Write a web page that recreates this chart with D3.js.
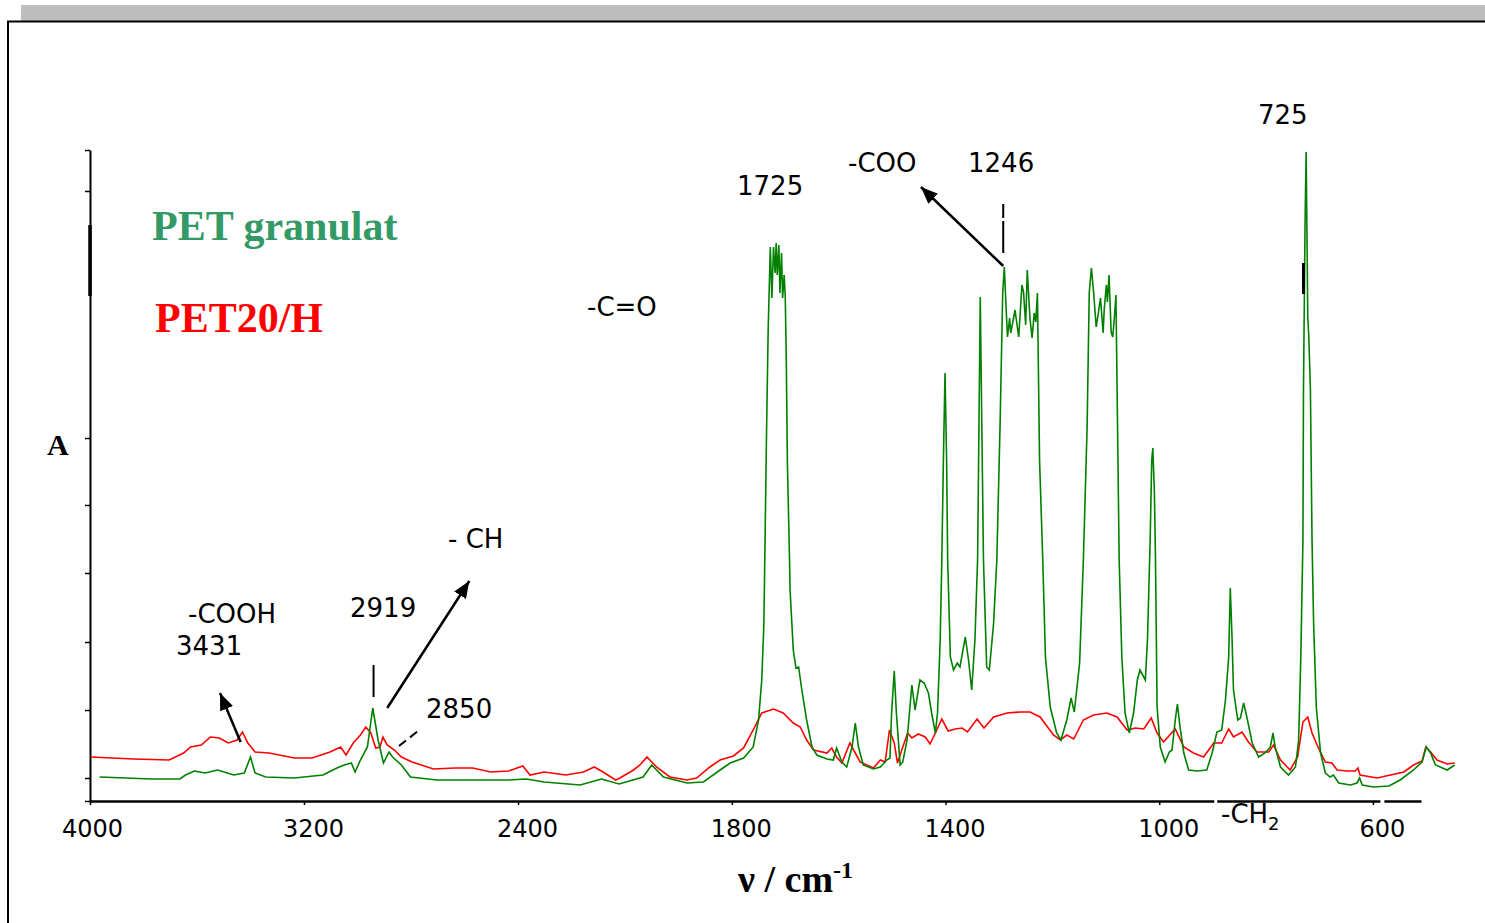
<!DOCTYPE html>
<html>
<head>
<meta charset="utf-8">
<script src="https://cdn.jsdelivr.net/npm/d3@7"></script>
<style>
body { margin: 0; background: #fff; }
svg { display: block; }
.ann { font-family: "DejaVu Sans", Verdana, sans-serif; font-size: 26px; fill: #000; }
.tick text { font-family: "DejaVu Sans", Verdana, sans-serif; font-size: 24px; fill: #000; }
.serif { font-family: "Liberation Serif", "Times New Roman", serif; font-weight: bold; }
</style>
</head>
<body>
<div id="chart"></div>
<script>
// x axis ticks (wavenumber, cm-1) and the unlabeled y ticks (absorbance, arb. units)
const xTicks = [4000, 3200, 2400, 1800, 1400, 1000, 600];
const yTicks = [0, 2.3, 9.1, 15.9, 22.8, 29.6, 36.3, 61.0, 65.1];

// PET granulat
const greenWn = [3964, 3770, 3664, 3643, 3610, 3570, 3523, 3463, 3423, 3400, 3383, 3343, 3236, 3129, 3077, 3050, 3023, 3009, 2989, 2963,
    2943, 2923, 2903, 2882, 2869, 2836, 2802, 2703, 2568, 2435, 2369, 2302, 2168, 2088, 2022, 1966, 1950, 1928, 1884, 1853,
    1822, 1803, 1778, 1760, 1750, 1744, 1740, 1735, 1732, 1728, 1725, 1722, 1719, 1717, 1715, 1712, 1710, 1707, 1705, 1702,
    1700, 1698, 1696, 1692, 1691, 1685, 1680, 1675, 1669, 1660, 1650, 1641, 1622, 1610, 1604, 1594, 1585, 1575, 1569, 1563,
    1554, 1535, 1522, 1510, 1504, 1501, 1496, 1492, 1485, 1480, 1472, 1463, 1457, 1448, 1440, 1432, 1426, 1419, 1415, 1410,
    1407, 1404, 1401, 1398, 1396, 1391, 1385, 1378, 1373, 1363, 1357, 1351, 1345, 1340, 1335, 1329, 1323, 1318, 1310, 1304,
    1298, 1293, 1290, 1286, 1284, 1280, 1278, 1274, 1270, 1263, 1257, 1254, 1250, 1247, 1242, 1238, 1234, 1231, 1228, 1224,
    1218, 1213, 1204, 1192, 1184, 1173, 1165, 1159, 1149, 1142, 1135, 1131, 1127, 1123, 1118, 1114, 1110, 1105, 1103, 1099,
    1097, 1094, 1090, 1087, 1084, 1081, 1078, 1075, 1070, 1064, 1056, 1048, 1041, 1036, 1026, 1022, 1017, 1014, 1012, 1009,
    1007, 1004, 998, 989, 981, 976, 970, 966, 961, 954, 945, 929, 911, 901, 892, 883, 876, 870, 867, 864,
    861, 853, 848, 842, 836, 826, 814, 802, 792, 787, 783, 773, 758, 745, 739, 735, 731, 730, 727, 725,
    723, 722, 720, 717, 714, 711, 706, 698, 689, 680, 674, 664, 642, 630, 625, 620, 599, 570, 549, 524,
    508, 500, 492, 483, 461, 447];
const greenAbs = [2.4, 2.2, 2.2, 2.6, 3.0, 2.8, 3.1, 2.6, 2.8, 4.4, 2.8, 2.4, 2.3, 2.6, 3.3, 3.6, 3.8, 2.9, 4.1, 5.4,
    9.3, 6.1, 3.8, 4.9, 4.4, 3.6, 2.4, 2.1, 2.1, 2.1, 2.2, 1.9, 1.6, 2.2, 1.7, 2.4, 3.6, 2.4, 1.8, 1.9,
    3.1, 3.8, 4.3, 5.4, 8.1, 12.1, 17.8, 37.1, 47.1, 55.4, 50.3, 55.4, 52.8, 55.8, 52.6, 55.6, 50.8, 54.8, 50.3, 52.6,
    50.4, 43.8, 33.8, 24.1, 21.1, 15.1, 13.3, 13.4, 11.1, 8.1, 5.4, 4.6, 4.2, 4.1, 5.3, 3.9, 3.4, 5.4, 7.8, 5.4,
    3.6, 3.2, 3.4, 4.1, 4.3, 8.8, 13.0, 8.8, 3.6, 3.9, 6.1, 11.6, 9.1, 12.1, 11.8, 10.8, 8.8, 6.8, 8.8, 16.1,
    24.1, 34.1, 42.8, 34.1, 24.1, 14.4, 13.1, 13.8, 13.4, 16.4, 14.1, 11.1, 16.1, 24.1, 50.4, 24.1, 13.4, 13.1, 17.8, 24.1,
    37.4, 50.8, 53.4, 48.6, 46.4, 48.3, 46.8, 47.9, 49.1, 46.4, 51.6, 50.9, 47.6, 53.1, 48.3, 46.3, 48.8, 47.9, 50.8, 34.1,
    24.1, 14.4, 9.4, 6.8, 6.1, 8.1, 10.3, 8.9, 13.8, 24.1, 37.4, 50.8, 53.3, 51.0, 47.4, 48.8, 50.3, 46.8, 49.1, 51.6,
    49.9, 52.6, 46.9, 46.4, 48.3, 50.6, 37.4, 24.1, 14.4, 8.8, 6.8, 8.8, 12.1, 13.1, 12.1, 16.1, 26.1, 34.1, 35.3, 30.8,
    24.1, 9.4, 5.4, 3.9, 4.9, 5.1, 8.1, 9.7, 7.4, 4.8, 3.1, 3.0, 3.1, 4.8, 6.9, 7.1, 10.1, 14.4, 21.3, 16.8,
    11.1, 8.1, 8.3, 9.8, 8.4, 5.8, 4.4, 4.8, 5.4, 6.8, 5.4, 3.4, 2.6, 3.4, 6.1, 14.4, 26.1, 41.1, 57.8, 64.9,
    54.4, 48.4, 46.4, 41.1, 26.1, 17.8, 9.4, 4.8, 2.8, 2.4, 2.6, 1.8, 1.6, 1.8, 2.3, 1.6, 1.4, 1.5, 2.1, 3.1,
    3.9, 5.4, 4.8, 3.6, 3.1, 3.6];

// PET20/H
const redWn = [3997, 3837, 3704, 3650, 3624, 3584, 3550, 3517, 3483, 3450, 3430, 3410, 3383, 3330, 3236, 3170, 3103, 3063, 3043, 3016,
    2989, 2969, 2950, 2932, 2916, 2905, 2889, 2862, 2836, 2796, 2716, 2636, 2569, 2502, 2435, 2382, 2355, 2302, 2222, 2155,
    2115, 2082, 2035, 2019, 1984, 1972, 1959, 1941, 1916, 1884, 1866, 1841, 1822, 1797, 1778, 1760, 1744, 1722, 1704, 1685,
    1672, 1660, 1647, 1622, 1613, 1604, 1594, 1579, 1569, 1560, 1535, 1522, 1513, 1505, 1496, 1490, 1480, 1471, 1463, 1451,
    1438, 1429, 1419, 1407, 1395, 1382, 1369, 1359, 1341, 1328, 1310, 1285, 1260, 1242, 1223, 1198, 1185, 1173, 1160, 1142,
    1123, 1098, 1079, 1060, 1045, 1029, 1015, 1004, 992, 970, 954, 936, 917, 898, 883, 870, 861, 845, 833, 817,
    795, 786, 773, 755, 741, 731, 722, 714, 702, 689, 677, 667, 648, 633, 628, 624, 592, 567, 542, 524,
    508, 501, 492, 480, 461, 447];
const redAbs = [4.4, 4.2, 4.1, 4.8, 5.4, 5.6, 6.4, 6.3, 5.8, 6.1, 6.9, 5.8, 4.9, 4.8, 4.3, 4.3, 4.9, 5.4, 4.6, 5.8,
    6.6, 7.4, 6.8, 5.3, 5.4, 6.4, 5.6, 5.1, 4.4, 3.9, 3.2, 3.3, 3.3, 2.9, 3.0, 3.5, 2.6, 2.9, 2.6, 2.9,
    3.4, 2.9, 2.1, 2.3, 3.1, 3.6, 4.4, 3.4, 2.4, 2.1, 2.3, 3.4, 4.1, 4.5, 5.3, 7.1, 8.8, 9.2, 8.8, 7.8,
    7.4, 6.1, 5.1, 4.8, 5.3, 4.4, 3.8, 5.8, 4.8, 3.9, 3.3, 4.1, 3.9, 7.1, 5.8, 3.8, 5.4, 6.8, 6.3, 6.7,
    6.4, 5.7, 6.8, 8.2, 7.0, 7.2, 7.3, 6.9, 8.2, 7.3, 8.4, 8.8, 8.9, 8.9, 8.4, 6.6, 6.1, 6.6, 6.2, 8.1,
    8.6, 8.8, 8.4, 7.1, 7.3, 7.2, 8.3, 6.8, 5.9, 7.2, 5.4, 4.8, 4.4, 5.8, 5.8, 7.2, 6.4, 6.9, 5.9, 4.9,
    4.9, 5.6, 4.1, 3.1, 4.4, 7.9, 8.4, 6.8, 5.3, 3.9, 3.8, 3.1, 3.0, 3.0, 3.3, 2.6, 2.3, 2.6, 2.9, 3.6,
    4.0, 5.4, 4.9, 4.1, 3.7, 3.8];

// annotation arrows and marker lines, in (wavenumber, absorbance)
const arrowFrom = [[3437, 5.9], [2889, 9.3], [1292, 53.5]];
const arrowTo = [[3514, 10.8], [2582, 22.0], [1446, 61.4]];
const markFrom = [[2940, 13.6], [1292, 59.7], [730, 53.8], [2845, 5.5]];
const markTo = [[2940, 10.4], [1292, 54.8], [730, 50.7], [2769, 7.1]];

const width = 1485;
const height = 923;

const svg = d3.select('#chart').append('svg')
    .attr('width', width)
    .attr('height', height);

// window frame of the original screenshot
svg.append('rect').attr('x', 21).attr('y', 5).attr('width', width - 21).attr('height', 16).attr('fill', '#bebebe');
svg.append('path').attr('d', 'M8,' + height + ' V21.5 H' + width)
    .attr('fill', 'none').attr('stroke', '#000').attr('stroke-width', 2);

const x = d3.scaleLinear().domain([4000, 2000, 510]).range([90, 625, 1421]);
const y = d3.scaleLinear().domain([0, 65.1]).range([801, 150]);

const defs = svg.append('defs');
defs.append('marker')
    .attr('id', 'head')
    .attr('markerUnits', 'userSpaceOnUse')
    .attr('markerWidth', 18).attr('markerHeight', 14)
    .attr('refX', 17).attr('refY', 7)
    .attr('orient', 'auto')
    .append('path').attr('d', 'M0,0 L17,7 L0,14 Z').attr('fill', '#000');

// axes
const xAxis = svg.append('g')
    .attr('transform', 'translate(0,801)')
    .call(d3.axisBottom(x).tickValues(xTicks).tickSize(4).tickSizeOuter(0).tickPadding(15).tickFormat(d3.format('d')));
xAxis.select('.domain').attr('stroke-width', 2.5);
xAxis.selectAll('.tick text').attr('dx', d => d === 4000 ? 2 : 9);
xAxis.selectAll('.tick line').attr('stroke-width', 1.5);
// small breaks in the baseline
svg.append('rect').attr('x', x(897)).attr('y', 798).attr('width', 3).attr('height', 6).attr('fill', '#fff');
svg.append('rect').attr('x', x(586)).attr('y', 798).attr('width', 4).attr('height', 6).attr('fill', '#fff');

const yAxis = svg.append('g')
    .attr('transform', 'translate(90,0)')
    .call(d3.axisLeft(y).tickValues(yTicks).tickSize(5).tickSizeOuter(0).tickFormat(''));
yAxis.select('.domain').attr('stroke-width', 2);
yAxis.selectAll('.tick line').attr('stroke-width', 1.5);
svg.append('line')
    .attr('x1', 90).attr('x2', 90)
    .attr('y1', y(57.6)).attr('y2', y(50.5))
    .attr('stroke', '#000').attr('stroke-width', 3.5);

// spectra
const line = d3.line().x(d => x(d[0])).y(d => y(d[1]));
const redData = redWn.map((w, i) => [w, redAbs[i]]);
const greenData = greenWn.map((w, i) => [w, greenAbs[i]]);

svg.append('path').datum(redData)
    .attr('d', line).attr('fill', 'none').attr('stroke', '#ff0000').attr('stroke-width', 1.6);
svg.append('path').datum(greenData)
    .attr('d', line).attr('fill', 'none').attr('stroke', '#008000').attr('stroke-width', 1.6);

// marker lines
const dashes = [null, '14 3 40', null, '9 5'];
const widths = [2, 2, 3, 2];
svg.selectAll('line.mark')
    .data(markFrom)
    .enter().append('line')
    .attr('class', 'mark')
    .attr('x1', d => x(d[0])).attr('y1', d => y(d[1]))
    .attr('x2', (d, i) => x(markTo[i][0])).attr('y2', (d, i) => y(markTo[i][1]))
    .attr('stroke', '#000')
    .attr('stroke-width', (d, i) => widths[i])
    .attr('stroke-dasharray', (d, i) => dashes[i]);

svg.selectAll('line.arrow')
    .data(arrowFrom)
    .enter().append('line')
    .attr('class', 'arrow')
    .attr('x1', d => x(d[0])).attr('y1', d => y(d[1]))
    .attr('x2', (d, i) => x(arrowTo[i][0])).attr('y2', (d, i) => y(arrowTo[i][1]))
    .attr('stroke', '#000').attr('stroke-width', 2.5)
    .attr('marker-end', 'url(#head)');

// annotation texts
const labels = [
    {t: '725', x: 1258, y: 124},
    {t: '-COO', x: 848, y: 172},
    {t: '1246', x: 968, y: 172},
    {t: '1725', x: 737, y: 195},
    {t: '-C=O', x: 587, y: 316},
    {t: '- CH', x: 448, y: 548},
    {t: '-COOH', x: 188, y: 623},
    {t: '3431', x: 176, y: 655},
    {t: '2919', x: 350, y: 617},
    {t: '2850', x: 426, y: 718}
];
svg.selectAll('text.ann')
    .data(labels)
    .enter().append('text')
    .attr('class', 'ann')
    .attr('x', d => d.x).attr('y', d => d.y)
    .text(d => d.t);

const ch2 = svg.append('text').attr('class', 'ann').attr('x', 1221).attr('y', 823);
ch2.append('tspan').text('-CH');
ch2.append('tspan').attr('font-size', 18).attr('dy', 7).text('2');

// legend
svg.append('text').attr('class', 'serif').attr('x', 152).attr('y', 240)
    .attr('font-size', 42).attr('fill', '#339966').text('PET granulat');
svg.append('text').attr('class', 'serif').attr('x', 155).attr('y', 332)
    .attr('font-size', 42).attr('fill', '#ff0000').text('PET20/H');

// axis titles
svg.append('text').attr('class', 'serif').attr('x', 47).attr('y', 455)
    .attr('font-size', 30).attr('fill', '#000').text('A');
const xt = svg.append('text').attr('class', 'serif').attr('x', 738).attr('y', 892)
    .attr('font-size', 38).attr('fill', '#000');
xt.append('tspan').text('ν / cm');
xt.append('tspan').attr('font-size', 24).attr('dy', -14).text('-1');
</script>
</body>
</html>
